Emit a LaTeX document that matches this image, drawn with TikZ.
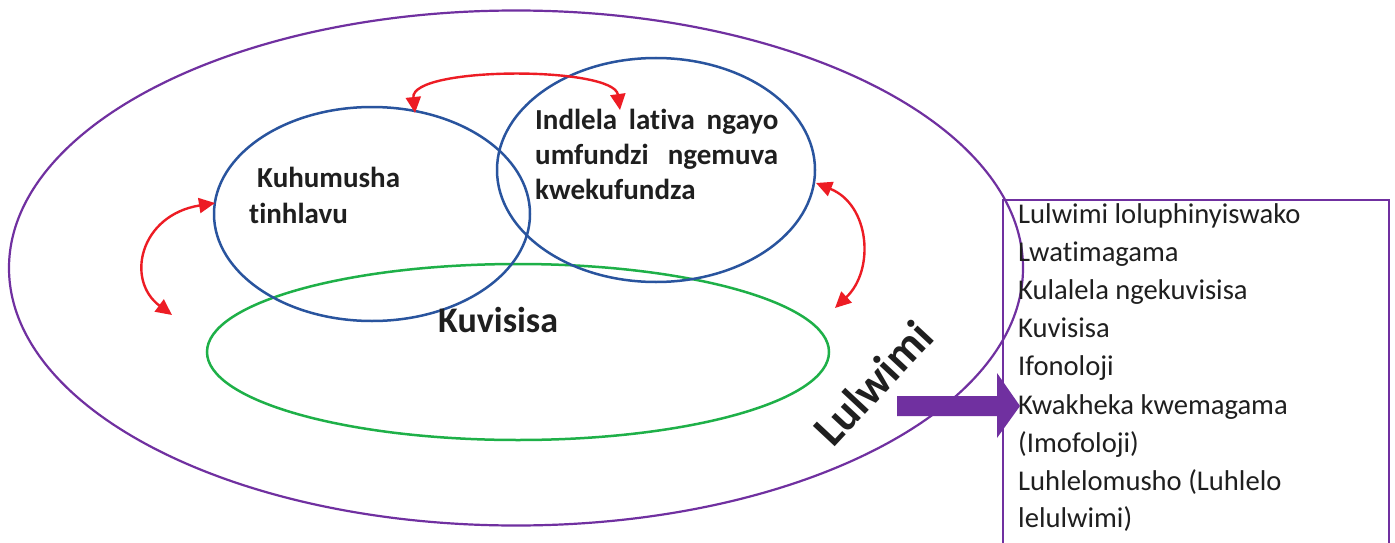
\documentclass[tikz,border=0pt]{standalone}
\usepackage{fontspec}
\setmainfont{Carlito}[Ligatures=NoCommon]
\usetikzlibrary{shapes.geometric,arrows.meta}
\definecolor{lwpurple}{RGB}{112,48,160}
\definecolor{lwblue}{RGB}{41,84,158}
\definecolor{lwgreen}{RGB}{30,176,72}
\definecolor{lwred}{RGB}{237,28,36}
\begin{document}
\begin{tikzpicture}[x=1pt,y=-1pt,
  ell/.style={ellipse, draw, inner sep=0pt},
  bt/.style={font=\fontsize{29}{34}\selectfont\bfseries, inner sep=0pt, anchor=base west, text=black!88},
  lt/.style={font=\fontsize{28.6}{34}\selectfont, inner sep=0pt, anchor=base west, text=black!88},
  redarrow/.style={lwred, line width=2.4pt, {Triangle[length=16pt,width=15pt]}-{Triangle[length=16pt,width=15pt]}},
  boxline/.style={lwpurple, line width=1.8pt}
]
\useasboundingbox (0,0) rectangle (1395,543);
\fill[white] (0,0) rectangle (1395,543);

% ellipses
\node[ell, draw=lwpurple, line width=2.2pt, minimum width=1014pt, minimum height=515pt] (outer) at (516,268) {};
\node[ell, draw=lwgreen, line width=2.5pt, minimum width=622pt, minimum height=176pt] (green) at (518,352) {};
\node[ell, draw=lwblue, line width=2.5pt, minimum width=316pt, minimum height=214pt] (lblue) at (372,214) {};
\node[ell, draw=lwblue, line width=2.5pt, minimum width=318pt, minimum height=224pt] (rblue) at (656,170) {};

% texts in circles
\node[bt] (kh1) at (257,187) {Kuhumusha};
\node[bt] (kh2) at (249,223) {tinhlavu};
\node[bt] (in1) at (535,129) {\makebox[243pt][s]{Indlela lativa ngayo}};
\node[bt] (in2) at (535,164) {\makebox[243pt][s]{umfundzi ngemuva}};
\node[bt] (in3) at (535,199) {kwekufundza};
\node[bt, font=\fontsize{36}{40}\selectfont\bfseries] (kv) at (438,332) {Kuvisisa};
\node[font=\fontsize{46}{50}\selectfont\bfseries, text=black!88, inner sep=0pt, rotate=47] (lw) at (873,383) {Lulwimi};

% red arrows
\coordinate (a1s) at (415,113);
\coordinate (a1e) at (620,110);
\coordinate (a2s) at (215,203);
\coordinate (a2e) at (172,315);
\coordinate (a3s) at (816,183);
\coordinate (a3e) at (835,308);
\draw[redarrow] (a1s) .. controls (410,66) and (614,66) .. (a1e);
\draw[redarrow] (a2s) .. controls (140,215) and (125,280) .. (a2e);
\draw[redarrow] (a3s) .. controls (870,205) and (875,270) .. (a3e);

% list box
\coordinate (bxbl) at (1003,560);
\coordinate (bxtr) at (1389,200);
\coordinate (bxbr) at (1389,560);
\draw[boxline] (bxbl) |- (bxtr) -- (bxbr);
\node[lt] (l1) at (1018,223) {Lulwimi loluphinyiswako};
\node[lt] (l2) at (1018,261) {Lwatimagama};
\node[lt] (l3) at (1018,299) {Kulalela ngekuvisisa};
\node[lt] (l4) at (1018,337) {Kuvisisa};
\node[lt] (l5) at (1018,375) {Ifonoloji};
\node[lt] (l6) at (1018,414) {Kwakheka kwemagama};
\node[lt] (l7) at (1018,452) {(Imofoloji)};
\node[lt] (l8) at (1018,490) {Luhlelomusho (Luhlelo};
\node[lt] (l9) at (1018,527) {lelulwimi)};

% big purple arrow
\fill[lwpurple] (897,396) -- (997,396) -- (997,373) -- (1020,406) -- (997,438) -- (997,416) -- (897,416) -- cycle;
\end{tikzpicture}
\end{document}
